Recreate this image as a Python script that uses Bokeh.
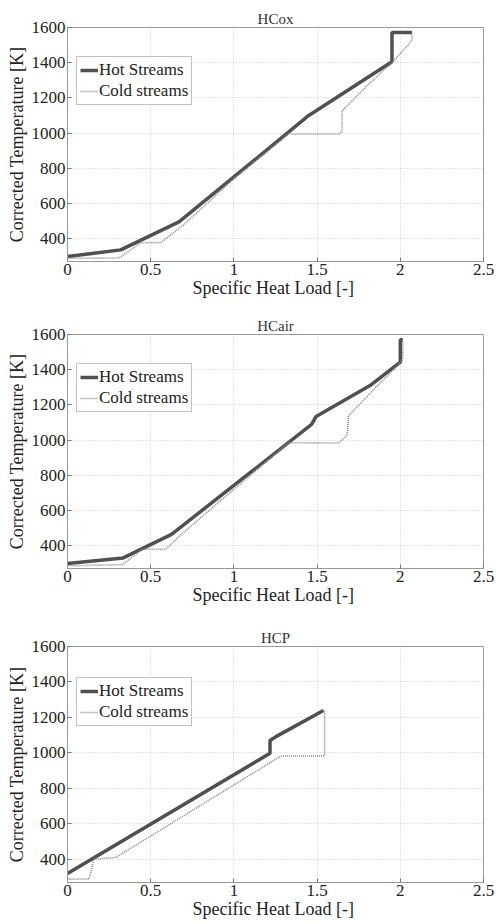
from bokeh.plotting import figure
from bokeh.layouts import column
from bokeh.models import Range1d, FixedTicker, Legend, LegendItem, Title
from bokeh.embed import file_html
from bokeh.resources import INLINE

# ---- data ----
titles = ["HCox", "HCair", "HCP"]

hox_x = [0.0, 0.32, 0.67, 1.45, 1.95, 1.95, 2.07]
hox_t = [298, 336, 495, 1100, 1405, 1572, 1572]
cox_x = [0.0, 0.31, 0.44, 0.56, 0.70, 1.00, 1.33, 1.63, 1.65, 1.65, 1.80, 1.95, 2.07, 2.07]
cox_t = [288, 290, 377, 377, 480, 740, 995, 995, 1010, 1125, 1269, 1400, 1525, 1565]

hair_x = [0.0, 0.335, 0.625, 1.467, 1.494, 1.818, 2.0, 2.0, 2.015]
hair_t = [298, 330, 464, 1089, 1134, 1310, 1443, 1570, 1570]
cair_x = [0.0, 0.33, 0.45, 0.59, 0.68, 0.90, 1.10, 1.33, 1.63, 1.68, 1.69, 1.73, 1.85, 1.97, 2.015, 2.015]
cair_t = [285, 292, 379, 379, 460, 640, 800, 985, 983, 1026, 1140, 1178, 1297, 1410, 1460, 1565]

hcp_x = [0.0, 1.217, 1.217, 1.253, 1.538]
hcp_t = [321, 998, 1070, 1092, 1239]
ccp_x = [0.0, 0.13, 0.158, 0.29, 1.283, 1.545, 1.545]
ccp_t = [289, 290, 402, 411, 983, 983, 1240]

hot = [(hox_x, hox_t), (hair_x, hair_t), (hcp_x, hcp_t)]
cold = [(cox_x, cox_t), (cair_x, cair_t), (ccp_x, ccp_t)]

x_ticks = [0, 0.5, 1, 1.5, 2, 2.5]
x_labels = ["0", "0.5", "1", "1.5", "2", "2.5"]
y_ticks = [400, 600, 800, 1000, 1200, 1400, 1600]

FONT = "Liberation Serif"
heights = [300, 310, 313]
tops = [27, 34, 36]
frames = [234, 234, 236]

figs = []
for i in range(3):
    H = heights[i]
    p = figure(width=496, height=H, output_backend="svg", toolbar_location=None,
               x_range=Range1d(0, 2.5), y_range=Range1d(270, 1600),
               min_border_left=67, min_border_right=13,
               min_border_top=tops[i], min_border_bottom=H - tops[i] - frames[i])
    p.title = Title(text=titles[i], align="center", text_font=FONT,
                    text_font_size="15px", text_font_style="normal",
                    text_color="#333333", offset=0, standoff=2)
    p.background_fill_color = "white"
    p.border_fill_color = "white"
    p.outline_line_color = "#999999"
    p.outline_line_width = 1

    p.xaxis.ticker = FixedTicker(ticks=x_ticks)
    p.xaxis.major_label_overrides = {t: l for t, l in zip(x_ticks, x_labels)}
    p.yaxis.ticker = FixedTicker(ticks=y_ticks)
    for ax in (p.xaxis[0], p.yaxis[0]):
        ax.axis_line_color = "#999999"
        ax.major_tick_in = 4
        ax.major_tick_out = 0
        ax.major_tick_line_color = "#777777"
        ax.minor_tick_line_color = None
        ax.major_label_text_font = FONT
        ax.major_label_text_font_size = "17px"
        ax.major_label_text_color = "#222222"
        ax.axis_label_text_font = FONT
        ax.axis_label_text_font_size = "18px"
        ax.axis_label_text_font_style = "normal"
        ax.axis_label_text_color = "#222222"
    p.xaxis.axis_label = "Specific Heat Load  [-]"
    p.yaxis.axis_label = "Corrected Temperature [K]"
    p.xaxis.major_label_standoff = 2
    p.xaxis.axis_label_standoff = 0
    p.yaxis.major_label_standoff = 2
    p.yaxis.axis_label_standoff = 2

    p.xgrid.grid_line_color = "#cccccc"
    p.ygrid.grid_line_color = "#cccccc"
    p.xgrid.grid_line_dash = "1 2"
    p.ygrid.grid_line_dash = "1 2"

    hx, ht = hot[i]
    cx, ct = cold[i]
    rh = p.line(hx, ht, line_color="#505050", line_width=3.5)
    rc = p.line(cx, ct, line_color="#8a8a8a", line_width=1.6, line_dash="1 1")

    leg = Legend(items=[LegendItem(label="Hot Streams", renderers=[rh]),
                        LegendItem(label="Cold streams", renderers=[rc])],
                 location=(9, 156), label_text_font=FONT, label_text_font_size="17px",
                 label_text_color="#222222", glyph_width=18, glyph_height=18,
                 label_height=18, label_standoff=1, spacing=1, padding=3, margin=0,
                 border_line_color="#888888", border_line_width=1,
                 background_fill_alpha=1.0)
    p.add_layout(leg, "center")
    figs.append(p)

layout = column(*figs, spacing=0)
open("out.html", "w").write(file_html(layout, INLINE))
